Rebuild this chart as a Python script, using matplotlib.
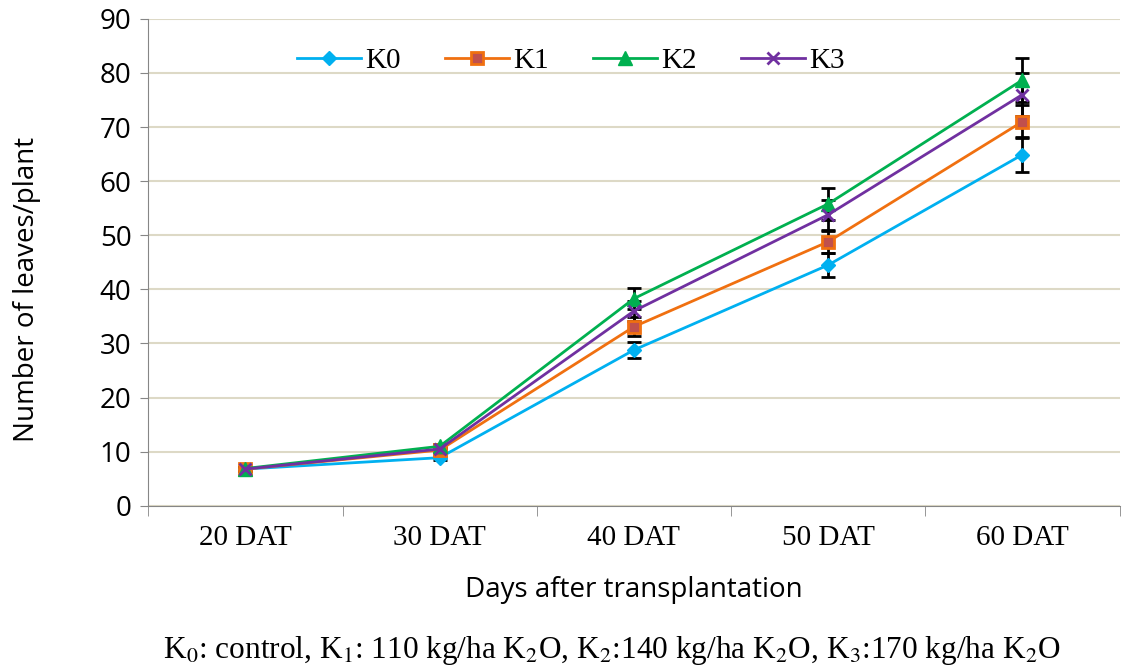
import matplotlib.pyplot as plt
import numpy as np

days = ["20 DAT", "30 DAT", "40 DAT", "50 DAT", "60 DAT"]
k0 = [6.8, 8.9, 28.8, 44.5, 64.9]
k1 = [6.8, 10.3, 33.1, 48.8, 71.0]
k2 = [6.9, 11.0, 38.3, 55.8, 78.7]
k3 = [6.8, 10.5, 36.0, 53.8, 76.0]
k0_err = [0.3, 0.4, 1.5, 2.2, 3.2]
k1_err = [0.3, 0.4, 1.8, 2.0, 3.0]
k2_err = [0.3, 0.4, 2.0, 3.0, 4.0]
k3_err = [0.3, 0.4, 1.8, 2.8, 4.0]

series = [
    ("K0", k0, k0_err, "#00B0F0", dict(marker="D", markersize=7, markerfacecolor="#00B0F0", markeredgecolor="#00B0F0")),
    ("K1", k1, k1_err, "#F07010", dict(marker="s", markersize=9, markerfacecolor="#C0504D", markeredgecolor="#F07010", markeredgewidth=2)),
    ("K2", k2, k2_err, "#00B050", dict(marker="^", markersize=10, markerfacecolor="#00B050", markeredgecolor="#00B050")),
    ("K3", k3, k3_err, "#7030A0", dict(marker="x", markersize=9, markeredgecolor="#7030A0", markeredgewidth=2)),
]

fig = plt.figure(figsize=(11.23, 6.70), dpi=100)
ax = fig.add_axes([0.132, 0.245, 0.865, 0.727])
x = np.arange(len(days))

for name, vals, err, col, mk in series:
    ax.errorbar(x, vals, yerr=err, fmt="none", ecolor="black", elinewidth=2,
                capsize=5, capthick=2, zorder=2)
for name, vals, err, col, mk in series:
    ax.plot(x, vals, color=col, linewidth=2, label=name, zorder=3, **mk)

ax.set_xlim(-0.5, len(days) - 0.5)
ax.set_ylim(0, 90)
ax.set_yticks(np.arange(0, 91, 10))
ax.grid(axis="y", color="#DDD9C6", linewidth=1.5)
ax.set_axisbelow(True)
for s in ["top", "right"]:
    ax.spines[s].set_visible(False)
for s in ["left", "bottom"]:
    ax.spines[s].set_color("#868686")

ax.set_xticks(x)
ax.set_xticklabels(days, family="Liberation Serif", fontsize=21)
ax.tick_params(axis="x", length=0, pad=14)
ax.set_xticks(np.arange(-0.5, len(days)), minor=True)
ax.tick_params(axis="x", which="minor", length=7, color="#868686")
ax.tick_params(axis="y", labelsize=20, length=6, color="#868686", pad=6)
for t in ax.get_yticklabels():
    t.set_family("Open Sans")

ax.set_ylabel("Number of leaves/plant", family="Open Sans", fontsize=20)
ax.yaxis.set_label_coords(-0.11, 0.445)
ax.set_xlabel("Days after transplantation", family="Open Sans", fontsize=20, labelpad=18)

leg = ax.legend(loc="upper center", bbox_to_anchor=(0.435, 0.995), ncol=4, frameon=False,
                prop={"family": "Liberation Serif", "size": 21}, handlelength=2.2,
                columnspacing=1.5, handletextpad=0.15)

fig.text(0.545, 0.018,
         r"K$_0$: control, K$_1$: 110 kg/ha K$_2$O, K$_2$:140 kg/ha K$_2$O, K$_3$:170 kg/ha K$_2$O",
         ha="center", family="Liberation Serif", fontsize=22.5, math_fontfamily="stix")

fig.savefig("out.png", dpi=100)
